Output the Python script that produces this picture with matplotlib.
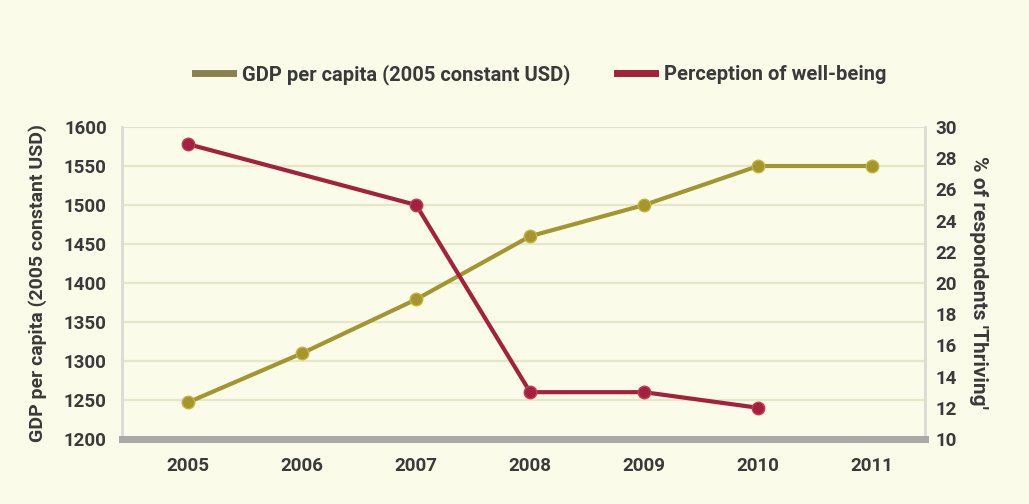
import matplotlib
matplotlib.use("Agg")
import matplotlib.pyplot as plt
from matplotlib.lines import Line2D

plt.rcParams['font.family'] = ['Roboto', 'DejaVu Sans']

# data
years = [2005, 2006, 2007, 2008, 2009, 2010, 2011]
gdp = [1247, 1310, 1379, 1460, 1500, 1550, 1550]
wb_years = [2005, 2007, 2008, 2009, 2010]
thriving = [28.9, 25.0, 13.0, 13.0, 12.0]

gdp_ticks = [1200, 1250, 1300, 1350, 1400, 1450, 1500, 1550, 1600]
pct_ticks = [10, 12, 14, 16, 18, 20, 22, 24, 26, 28, 30]

bg = '#fafce9'
gold = '#a39630'
red = '#a3223b'
txt = '#3a3a3a'

fig = plt.figure(figsize=(10.29, 5.04), dpi=100, facecolor=bg)
ax = fig.add_axes([0.1186, 0.129, 0.780, 0.619])
ax.set_facecolor(bg)
ax2 = ax.twinx()

ax.set_xlim(2004.42, 2011.46)
ax.set_ylim(1200, 1600)
ax2.set_ylim(10, 30)

# horizontal guides
for t in gdp_ticks[1:-1]:
    ax.axhline(t, color='#e4e8c8', lw=1.6, zorder=0)
ax.axhline(1600, color='#e0e0d4', lw=1.5, zorder=0)

ax.plot(years, gdp, color=gold, lw=3, marker='o', ms=9,
        markerfacecolor='#a4962c', markeredgecolor='#c2b440', markeredgewidth=1, zorder=3)
ax2.plot(wb_years, thriving, color=red, lw=3, marker='o', ms=9,
         markerfacecolor='#a52040', markeredgecolor='#c04050', markeredgewidth=1, zorder=3)

ax.set_xticks(years)
ax.set_xticklabels([str(y) for y in years])
ax.set_yticks(gdp_ticks)
ax2.set_yticks(pct_ticks)

for a in (ax, ax2):
    a.tick_params(length=0, labelsize=13.5, labelcolor=txt)
    for lab in a.get_xticklabels() + a.get_yticklabels():
        lab.set_fontweight('bold')
    for s in ('left', 'right', 'top'):
        a.spines[s].set_color('#dcdcd4')
        a.spines[s].set_linewidth(1.8)
    a.spines['top'].set_visible(False)
    a.spines['bottom'].set_color('#a8a8a8')
    a.spines['bottom'].set_linewidth(5)

ax.tick_params(axis='x', pad=13)
ax.tick_params(axis='y', pad=11)
ax2.tick_params(axis='y', pad=8)

ax.set_ylabel('GDP per capita (2005 constant USD)', fontsize=14, fontweight='bold',
              color=txt, labelpad=12)
ax2.set_ylabel("% of respondents 'Thriving'", fontsize=15, fontweight='bold',
               color=txt, rotation=270, labelpad=22)

# legend: one entry per series, placed side by side above the plot
entries = [('#8a8150', 'GDP per capita (2005 constant USD)', 195),
           (red, 'Perception of well-being', 617)]
for col, label, xpix in entries:
    leg = fig.legend([Line2D([], [], color=col, lw=5)], [label],
                     loc='center left', bbox_to_anchor=(xpix / 1029, 0.852),
                     frameon=False, borderpad=0, borderaxespad=0,
                     handlelength=1.9, handletextpad=0.45, labelcolor=txt,
                     prop={'weight': 'bold', 'size': 14.5})

fig.savefig('out.png', dpi=100, facecolor=bg)
